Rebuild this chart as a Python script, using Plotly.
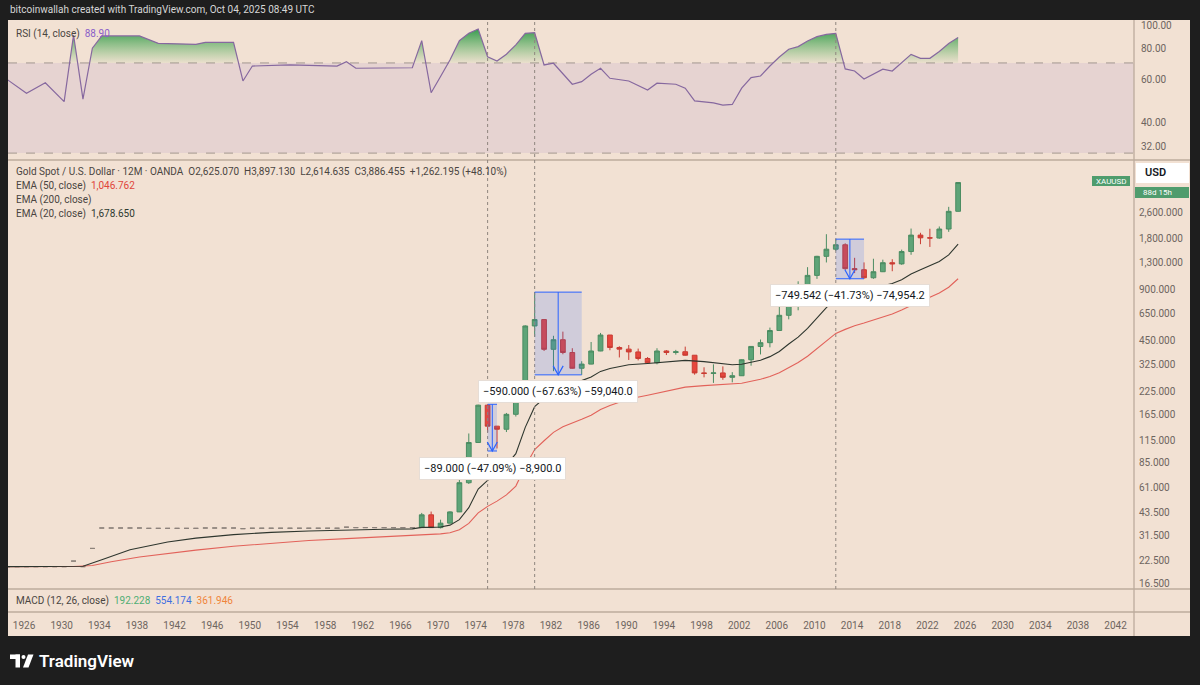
import math
import plotly.graph_objects as go

# ---------------- DATA ----------------
# Early yearly bars are flat (open = high = low = close)
doji_years = [1924, 1925, 1926, 1927, 1928, 1929, 1930, 1931, 1932, 1933,
              1934, 1935, 1936, 1937, 1938, 1939, 1940, 1941, 1942, 1943,
              1944, 1945, 1946, 1947, 1948, 1949, 1950, 1951, 1952, 1953,
              1954, 1955, 1956, 1957, 1958, 1959, 1960, 1961, 1962, 1963,
              1964, 1965, 1966, 1967]
doji_prices = [20.67, 20.67, 20.67, 20.67, 20.67, 20.67, 20.67, 22.3, 20.67, 26.5,
               35.0, 35.0, 35.0, 35.0, 35.0, 34.85, 34.85, 34.85, 34.85, 34.85,
               34.85, 35.0, 35.0, 35.0, 35.0, 34.7, 34.9, 34.9, 34.9, 34.9,
               34.9, 34.9, 34.9, 34.9, 34.9, 34.9, 35.4, 35.2, 35.2, 35.2,
               35.2, 35.2, 35.2, 35.2]

candle_years = [1968, 1969, 1970, 1971, 1972, 1973, 1974, 1975, 1976, 1977,
                1978, 1979, 1980, 1981, 1982, 1983, 1984, 1985, 1986, 1987,
                1988, 1989, 1990, 1991, 1992, 1993, 1994, 1995, 1996, 1997,
                1998, 1999, 2000, 2001, 2002, 2003, 2004, 2005, 2006, 2007,
                2008, 2009, 2010, 2011, 2012, 2013, 2014, 2015, 2016, 2017,
                2018, 2019, 2020, 2021, 2022, 2023, 2024, 2025]
candle_open = [35.2, 41.9, 35.2, 37.4, 43.6, 64.9, 112.3, 186.8, 140.3, 134.5,
               164.9, 226.0, 550.0, 600.0, 400.0, 456.0, 383.0, 309.0, 327.0, 391.0,
               486.0, 410.0, 401.0, 386.0, 353.0, 333.0, 391.0, 383.0, 387.0, 369.0,
               290.0, 288.0, 290.0, 273.0, 279.0, 347.0, 416.0, 438.0, 517.0, 636.0,
               834.0, 870.0, 1096.0, 1421.0, 1566.0, 1664.0, 1202.0, 1184.0, 1061.0, 1152.0,
               1303.0, 1282.0, 1517.0, 1898.0, 1829.0, 1824.0, 2062.0, 2625.07]
candle_high = [43.0, 43.8, 39.2, 44.0, 70.0, 127.0, 188.0, 189.0, 140.5, 168.0,
               243.6, 555.0, 873.0, 603.0, 481.0, 509.0, 406.0, 340.0, 442.0, 500.0,
               486.0, 417.0, 424.0, 404.0, 360.0, 406.0, 396.0, 397.0, 415.0, 370.0,
               313.0, 326.0, 317.0, 293.0, 349.0, 417.0, 457.0, 538.0, 730.0, 841.0,
               1011.0, 1226.0, 1431.0, 1921.0, 1796.2, 1697.0, 1392.0, 1308.0, 1375.0, 1358.0,
               1366.0, 1557.0, 2075.0, 1959.0, 2070.0, 2135.0, 2790.0, 3897.13]
candle_low = [35.0, 35.0, 34.8, 37.3, 43.5, 63.8, 112.0, 128.8, 103.5, 129.5,
              160.0, 216.0, 474.0, 391.0, 297.0, 374.0, 307.0, 282.4, 326.0, 390.0,
              395.0, 358.0, 346.0, 344.0, 330.0, 326.0, 370.0, 372.0, 367.0, 283.0,
              273.0, 253.0, 264.0, 255.0, 278.0, 320.0, 373.0, 411.0, 517.0, 602.0,
              681.0, 802.0, 1045.0, 1307.0, 1527.0, 1181.0, 1131.0, 1046.7, 1046.0, 1147.0,
              1160.0, 1266.0, 1451.0, 1677.0, 1615.0, 1805.0, 1984.0, 2614.635]
candle_close = [41.9, 35.2, 37.4, 43.6, 64.9, 112.3, 186.8, 140.3, 134.5, 164.9,
                226.0, 550.0, 600.0, 400.0, 456.0, 383.0, 309.0, 327.0, 391.0, 486.0,
                410.0, 401.0, 386.0, 353.0, 333.0, 391.0, 383.0, 387.0, 369.0, 290.0,
                288.0, 290.0, 273.0, 279.0, 347.0, 416.0, 438.0, 517.0, 636.0, 834.0,
                870.0, 1096.0, 1421.0, 1566.0, 1664.0, 1202.0, 1184.0, 1061.0, 1152.0, 1303.0,
                1282.0, 1517.0, 1898.0, 1829.0, 1824.0, 2062.0, 2624.26, 3886.455]

ema20_years = [1924, 1931, 1932, 1934, 1937, 1941, 1944, 1948, 1952, 1956,
               1960, 1964, 1967, 1968, 1969, 1970, 1971, 1972, 1973, 1974,
               1975, 1976, 1977, 1978, 1979, 1980, 1981, 1982, 1983, 1984,
               1985, 1986, 1987, 1988, 1990, 1992, 1994, 1996, 1998, 2000,
               2001, 2002, 2003, 2004, 2005, 2006, 2007, 2008, 2009, 2010,
               2011, 2012, 2013, 2014, 2015, 2016, 2017, 2018, 2019, 2020,
               2021, 2022, 2023, 2024, 2025]
ema20_values = [20.67, 20.8, 20.8, 22.7, 26.0, 28.9, 30.5, 32.0, 33.0, 33.6,
                34.1, 34.4, 34.6, 35.3, 35.3, 35.5, 36.4, 39.2, 46.2, 59.5,
                67.0, 73.5, 82.5, 96.5, 138.0, 183.0, 205.0, 229.0, 245.0, 252.0,
                261.0, 274.0, 296.0, 308.0, 324.0, 330.0, 338.0, 344.0, 338.0, 328.0,
                324.0, 326.0, 335.0, 345.0, 362.0, 388.0, 430.0, 472.0, 532.0, 616.0,
                706.0, 795.0, 835.0, 868.0, 888.0, 913.0, 950.0, 982.0, 1034.0, 1116.0,
                1184.0, 1246.0, 1324.0, 1448.0, 1678.65]

ema50_years = [1924, 1931, 1933, 1935, 1938, 1941, 1944, 1948, 1952, 1956,
               1960, 1964, 1968, 1970, 1971, 1972, 1973, 1974, 1975, 1976,
               1977, 1978, 1979, 1980, 1981, 1982, 1983, 1984, 1985, 1986,
               1987, 1988, 1990, 1992, 1994, 1996, 1998, 2000, 2002, 2004,
               2005, 2006, 2007, 2008, 2009, 2010, 2011, 2012, 2013, 2014,
               2015, 2016, 2017, 2018, 2019, 2020, 2021, 2022, 2023, 2024, 2025]
ema50_values = [20.67, 20.7, 21.0, 22.1, 23.6, 24.8, 25.9, 27.3, 28.5, 29.5,
                30.3, 31.0, 31.9, 32.3, 32.8, 34.2, 37.3, 43.0, 47.0, 50.5,
                55.0, 62.0, 81.0, 102.0, 115.0, 129.0, 139.0, 146.0, 154.0, 163.0,
                176.0, 186.0, 203.0, 214.0, 227.0, 239.0, 244.0, 248.0, 252.0, 266.0,
                276.0, 291.0, 312.0, 334.0, 364.0, 404.0, 450.0, 497.0, 525.0, 552.0,
                572.0, 595.0, 622.0, 648.0, 683.0, 730.0, 773.0, 814.0, 863.0, 932.0, 1046.762]

rsi_years = [1924, 1926, 1928, 1930, 1931, 1932, 1933, 1934, 1938, 1940,
             1944, 1945, 1948, 1949, 1950, 1954, 1959, 1960, 1961, 1967,
             1968, 1969, 1970, 1971, 1972, 1973, 1974, 1975, 1976, 1977,
             1978, 1979, 1980, 1981, 1982, 1983, 1984, 1985, 1986, 1987,
             1988, 1990, 1992, 1993, 1995, 1996, 1997, 1999, 2000, 2001,
             2002, 2003, 2004, 2005, 2006, 2007, 2008, 2009, 2010, 2011,
             2012, 2013, 2014, 2015, 2016, 2017, 2018, 2019, 2020, 2021,
             2022, 2023, 2024, 2025]
rsi_values = [59.7, 52.6, 58.1, 48.7, 91.0, 49.8, 80.4, 90.2, 90.2, 84.2,
              83.4, 85.0, 85.0, 59.1, 68.0, 68.7, 68.0, 70.8, 66.6, 66.9,
              86.3, 52.9, 61.6, 72.0, 86.3, 92.5, 96.3, 74.2, 71.3, 76.0,
              83.0, 92.5, 93.0, 68.7, 69.8, 63.0, 57.3, 58.7, 63.0, 66.6,
              60.6, 59.1, 54.3, 57.9, 57.3, 55.2, 49.0, 48.1, 47.1, 47.4,
              55.2, 61.0, 61.9, 68.0, 74.0, 79.6, 81.6, 86.0, 89.6, 91.5,
              92.5, 66.2, 64.9, 60.2, 63.0, 66.0, 64.9, 70.0, 75.9, 73.1,
              73.1, 78.0, 84.0, 88.9]

marker_years = [1975, 1980, 2012]
range_start = [1975, 1980, 2012]
range_end = [1976, 1985, 2015]
range_top = [189.0, 872.4, 1796.2]
range_bottom = [100.0, 282.4, 1046.658]
range_labels = ["\u221289.000 (\u221247.09%) \u22128,900.0",
                "\u2212590.000 (\u221267.63%) \u221259,040.0",
                "\u2212749.542 (\u221241.73%) \u221274,954.2"]

x_tick_years = [1926, 1930, 1934, 1938, 1942, 1946, 1950, 1954, 1958, 1962,
                1966, 1970, 1974, 1978, 1982, 1986, 1990, 1994, 1998, 2002,
                2006, 2010, 2014, 2018, 2022, 2026, 2030, 2034, 2038, 2042]
price_ticks = [16.5, 22.5, 31.5, 43.5, 61, 85, 115, 165, 225, 325, 450, 650,
               900, 1300, 1800, 2600]
price_tick_text = ["16.500", "22.500", "31.500", "43.500", "61.000", "85.000",
                   "115.000", "165.000", "225.000", "325.000", "450.000", "650.000",
                   "900.000", "1,300.000", "1,800.000", "2,600.000"]
rsi_ticks = [32, 40, 60, 80, 100]
rsi_tick_text = ["32.00", "40.00", "60.00", "80.00", "100.00"]
rsi_bands = [30, 70]

# ---------------- GEOMETRY / STYLE ----------------
W, H = 1200, 685
def px(x):
    return x / W
def py(y):
    return 1 - y / H

BG = "#f2e1d3"
DARK = "#1e1e1e"
SEP = "#bcab9c"
TXT = "#4a4541"
AXT = "#6e6560"
FONT = "Roboto"
UP_FILL, UP_LINE = "#5ea478", "#4b8c62"
DN_FILL, DN_LINE = "#e6473d", "#c93c33"
BLUE = "#2962ff"

X0 = 1924.034
X1 = 2043.69
LABEL_OFF = 0.266

fig = go.Figure()

# ---- RSI overbought gradient fill ----
lv70 = math.log10(rsi_bands[1])
fx, fy = [], []
for i, (xv, vv) in enumerate(zip(rsi_years, rsi_values)):
    if i > 0:
        xp, vp = rsi_years[i - 1], rsi_values[i - 1]
        if (vp - 70) * (vv - 70) < 0:
            t = (lv70 - math.log10(vp)) / (math.log10(vv) - math.log10(vp))
            fx.append(xp + t * (xv - xp))
            fy.append(70.0)
    fx.append(xv)
    fy.append(max(vv, 70.0))

fig.add_trace(go.Scatter(x=fx, y=[70.0] * len(fx), xaxis="x2", yaxis="y2",
                         mode="lines", line=dict(width=0), hoverinfo="skip"))
fig.add_trace(go.Scatter(x=fx, y=fy, xaxis="x2", yaxis="y2", mode="lines",
                         line=dict(width=0), fill="tonexty",
                         fillgradient=dict(type="vertical",
                                           colorscale=[[0, "rgba(90,180,90,0.05)"],
                                                       [1, "rgba(55,155,80,1.0)"]]),
                         hoverinfo="skip"))
fig.add_trace(go.Scatter(x=rsi_years, y=rsi_values, xaxis="x2", yaxis="y2",
                         mode="lines", line=dict(color="#86689f", width=1.2),
                         hoverinfo="skip"))

# ---- price candles ----
fig.add_trace(go.Candlestick(
    x=doji_years, open=doji_prices, high=doji_prices, low=doji_prices, close=doji_prices,
    increasing=dict(line=dict(color="#8d837c", width=1), fillcolor="#8d837c"),
    decreasing=dict(line=dict(color="#8d837c", width=1), fillcolor="#8d837c"),
    hoverinfo="skip"))
fig.add_trace(go.Candlestick(
    x=candle_years, open=candle_open, high=candle_high, low=candle_low, close=candle_close,
    increasing=dict(line=dict(color=UP_LINE, width=1), fillcolor=UP_FILL),
    decreasing=dict(line=dict(color=DN_LINE, width=1), fillcolor=DN_FILL),
    hoverinfo="skip"))

# ---- EMAs ----
fig.add_trace(go.Scatter(x=ema50_years, y=ema50_values, mode="lines",
                         line=dict(color="#e2625a", width=1.1), hoverinfo="skip"))
fig.add_trace(go.Scatter(x=ema20_years, y=ema20_values, mode="lines",
                         line=dict(color="#2e362e", width=1.1), hoverinfo="skip"))

shapes = []
# chart frame background
shapes.append(dict(type="rect", xref="paper", yref="paper", x0=px(8), x1=px(1190),
                   y0=py(636), y1=py(20), fillcolor=BG, line=dict(width=0), layer="below"))
# RSI band (shape coords on log axes given in data values)
shapes.append(dict(type="rect", xref="x2 domain", yref="y2", x0=0, x1=1,
                   y0=rsi_bands[0], y1=rsi_bands[1],
                   fillcolor="rgba(126,87,194,0.10)", line=dict(width=0), layer="below"))
for lvl in rsi_bands:
    shapes.append(dict(type="line", xref="x2 domain", yref="y2", x0=0, x1=1,
                       y0=lvl, y1=lvl,
                       line=dict(color="#a3978f", width=1, dash="dash"), layer="below"))
# pane separators
for yy in (160, 589, 612):
    shapes.append(dict(type="line", xref="paper", yref="paper", x0=px(8), x1=px(1190),
                       y0=py(yy), y1=py(yy), line=dict(color=SEP, width=1.3)))
# price-scale border
shapes.append(dict(type="line", xref="paper", yref="paper", x0=px(1134), x1=px(1134),
                   y0=py(636), y1=py(20), line=dict(color=SEP, width=1.3)))
# dotted vertical markers
for yr in marker_years:
    shapes.append(dict(type="line", xref="x", yref="paper", x0=yr, x1=yr,
                       y0=py(589), y1=py(20),
                       line=dict(color="#8f857e", width=1, dash="dot")))
# price-range measurement tools
XPX = 9.41    # pixels per year
YPX = 168.9   # pixels per decade
annotations = []
for s, e, top, bot, lab in zip(range_start, range_end, range_top, range_bottom, range_labels):
    mid = (s + e) / 2
    shapes.append(dict(type="rect", xref="x", yref="y", x0=s, x1=e, y0=bot, y1=top,
                       fillcolor="rgba(41,98,255,0.17)", line=dict(width=0)))
    for lv in (top, bot):
        shapes.append(dict(type="line", xref="x", yref="y", x0=s, x1=e, y0=lv, y1=lv,
                           line=dict(color=BLUE, width=1)))
    shapes.append(dict(type="line", xref="x", yref="y", x0=mid, x1=mid, y0=bot, y1=top,
                       line=dict(color=BLUE, width=1)))
    dx = 5 / XPX
    ya = bot * 10 ** (9 / YPX)
    shapes.append(dict(type="path", xref="x", yref="y",
                       path=f"M {mid - dx},{ya} L {mid},{bot} L {mid + dx},{ya}",
                       line=dict(color=BLUE, width=1.2)))
    annotations.append(dict(xref="x", yref="y", x=mid, y=math.log10(bot), yshift=-17,
                            text=lab, showarrow=False, xanchor="center", yanchor="middle",
                            bgcolor="#ffffff", bordercolor="#e6ddd6", borderwidth=1,
                            borderpad=4, font=dict(family=FONT, size=11, color="#131722")))

# price scale tags
shapes.append(dict(type="rect", xref="paper", yref="paper", x0=px(1092), x1=px(1130),
                   y0=py(186), y1=py(176), fillcolor="#4f9c6d", line=dict(width=0)))
shapes.append(dict(type="rect", xref="paper", yref="paper", x0=px(1135), x1=px(1189),
                   y0=py(198), y1=py(187), fillcolor="#4f9c6d", line=dict(width=0)))
shapes.append(dict(type="rect", xref="paper", yref="paper", x0=px(1136), x1=px(1189),
                   y0=py(183), y1=py(163), fillcolor="#ffffff", line=dict(width=0)))

# TradingView logo mark
shapes.append(dict(type="rect", xref="paper", yref="paper", x0=px(10), x1=px(20),
                   y0=py(659), y1=py(654.5), fillcolor="#ffffff", line=dict(width=0)))
shapes.append(dict(type="rect", xref="paper", yref="paper", x0=px(15.5), x1=px(20),
                   y0=py(667.5), y1=py(654.5), fillcolor="#ffffff", line=dict(width=0)))
shapes.append(dict(type="circle", xref="paper", yref="paper", x0=px(21.5), x1=px(25.5),
                   y0=py(659), y1=py(655), fillcolor="#ffffff", line=dict(width=0)))
shapes.append(dict(type="path", xref="paper", yref="paper",
                   path=(f"M {px(28)},{py(654.5)} L {px(33.5)},{py(654.5)} "
                         f"L {px(28.5)},{py(667.5)} L {px(23)},{py(667.5)} Z"),
                   fillcolor="#ffffff", line=dict(width=0)))

def txt(x, y, text, size=10, color=TXT, anchor="left", weight=None, family=FONT):
    f = dict(family=family, size=size, color=color)
    if weight:
        f["weight"] = weight
    return dict(xref="paper", yref="paper", x=px(x), y=py(y), text=text,
                showarrow=False, xanchor=anchor, yanchor="middle", font=f)

NB = "\u00a0"
annotations += [
    txt(8, 10, "bitcoinwallah created with TradingView.com, Oct 04, 2025 08:49 UTC",
        size=10, color="#d6d6d6"),
    txt(14, 34, f"RSI (14, close){NB}{NB}<span style='color:#8a5fc8'>88.90</span>"),
    txt(14, 172, f"Gold Spot / U.S. Dollar · 12M · OANDA{NB}{NB}O2,625.070{NB}{NB}H3,897.130"
                 f"{NB}{NB}L2,614.635{NB}{NB}C3,886.455{NB}{NB}+1,262.195 (+48.10%)"),
    txt(14, 186, f"EMA (50, close){NB}{NB}<span style='color:#e0453a'>1,046.762</span>"),
    txt(14, 200, "EMA (200, close)"),
    txt(14, 214, f"EMA (20, close){NB}{NB}<span style='color:#2e3a30'>1,678.650</span>"),
    txt(14, 601, f"MACD (12, 26, close){NB}{NB}<span style='color:#4fae74'>192.228</span>"
                 f"{NB}{NB}<span style='color:#3f6fe0'>554.174</span>"
                 f"{NB}{NB}<span style='color:#f0843a'>361.946</span>"),
    txt(1111, 181, "XAUUSD", size=8, color="#ffffff", anchor="center"),
    txt(1143, 173, "USD", size=11, color="#131722", weight=600),
    txt(1157, 192.5, "88d 15h", size=8, color="#ffffff", anchor="center"),
    txt(37, 661, "TradingView", size=17, color="#ffffff", weight=600),
]

fig.update_layout(
    width=W, height=H, autosize=False,
    margin=dict(l=0, r=0, t=0, b=0),
    paper_bgcolor=DARK, plot_bgcolor="rgba(0,0,0,0)",
    showlegend=False, boxgap=0.28,
    shapes=shapes, annotations=annotations,
    font=dict(family=FONT, size=10, color=AXT),
    xaxis=dict(domain=[px(8), px(1134)], range=[X0, X1], type="linear",
               anchor="free", position=py(612), side="bottom",
               tickvals=[y - LABEL_OFF for y in x_tick_years],
               ticktext=[str(y) for y in x_tick_years],
               tickfont=dict(family=FONT, size=10, color=AXT),
               showgrid=False, zeroline=False, showline=False, ticks="",
               ticklabelstandoff=6, rangeslider=dict(visible=False), fixedrange=True),
    xaxis2=dict(domain=[px(8), px(1134)], matches="x", anchor="y2", type="linear",
                showticklabels=False, showgrid=False, zeroline=False, showline=False,
                ticks="", fixedrange=True),
    yaxis=dict(domain=[py(589), py(161)], type="log", range=[1.183, 3.717],
               side="right", anchor="x", tickvals=price_ticks, ticktext=price_tick_text,
               tickfont=dict(family=FONT, size=10, color=AXT),
               showgrid=False, zeroline=False, showline=False, ticks="",
               ticklabelstandoff=4, fixedrange=True),
    yaxis2=dict(domain=[py(158), py(20)], type="log", range=[1.4571, 2.0204],
                side="right", anchor="x2", tickvals=rsi_ticks, ticktext=rsi_tick_text,
                tickfont=dict(family=FONT, size=10, color=AXT),
                showgrid=False, zeroline=False, showline=False, ticks="",
                ticklabelstandoff=6, fixedrange=True),
)

fig.write_html(
    "out.html",
    config={"displayModeBar": False},
    post_script="document.body.style.margin='0';document.body.style.padding='0';"
                "document.documentElement.style.overflow='hidden';",
)
